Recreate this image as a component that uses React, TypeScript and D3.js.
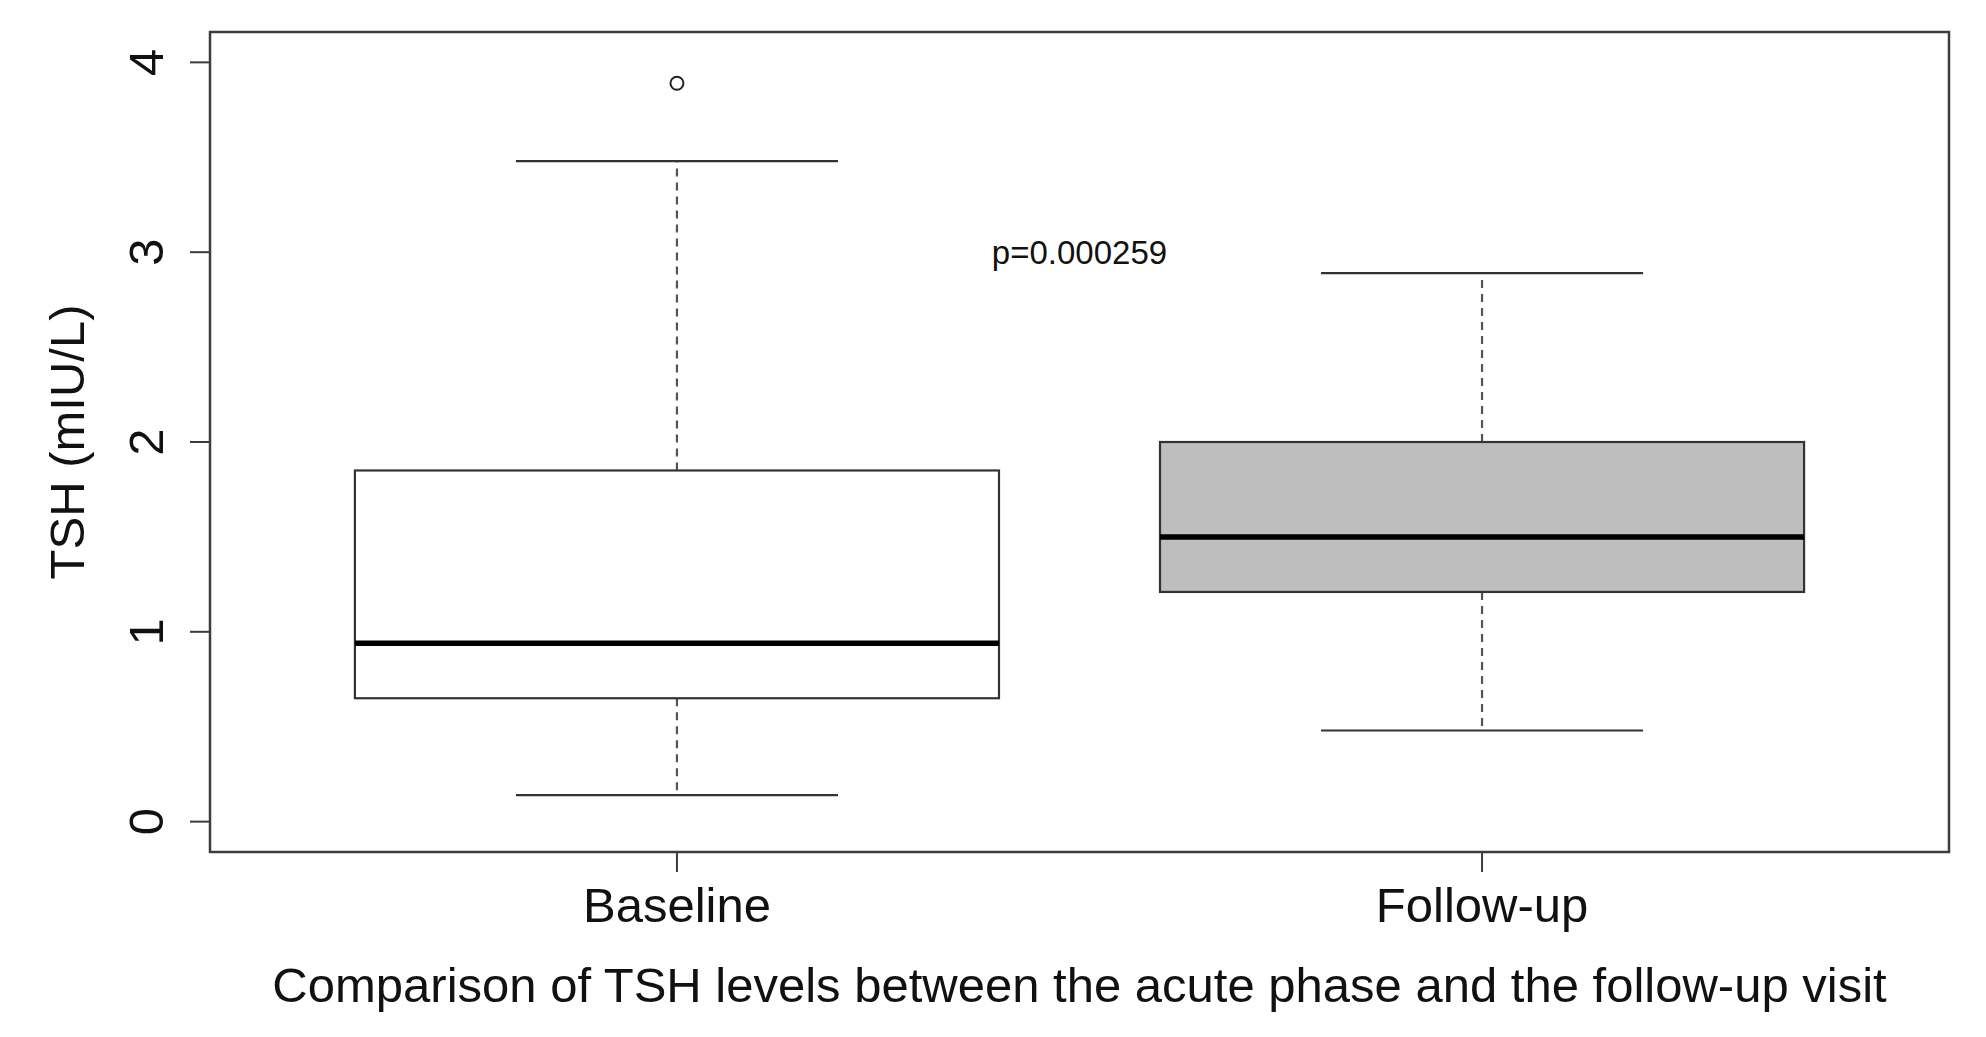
import { useEffect, useRef } from 'react';
import * as d3 from 'd3';

// Box summaries (TSH, mIU/L)
const groups = ['Baseline', 'Follow-up'];
const whiskerLow = [0.14, 0.48];
const q1 = [0.65, 1.21];
const medians = [0.94, 1.5];
const q3 = [1.85, 2.0];
const whiskerHigh = [3.48, 2.89];
const outliers: number[][] = [[3.89], []];
const boxFills = ['#ffffff', '#bebebe'];
const yTicks = [0, 1, 2, 3, 4];
const pLabel = 'p=0.000259';

export default function App() {
  const ref = useRef<SVGSVGElement>(null);

  useEffect(() => {
    if (!ref.current) return;
    const svg = d3.select(ref.current);
    svg.selectAll('*').remove();

    const width = 1986;
    const height = 1037;
    const left = 210, right = 1949, top = 32, bottom = 852;
    const font = '"Liberation Sans", Arial, Helvetica, sans-serif';
    const frameColor = '#3c3c3c';
    const bigFont = '49px';

    svg.attr('width', width).attr('height', height);

    // R style: box positions 1..n, xlim extended by 4%
    const x = d3.scaleLinear().domain([0.42, 2.58]).range([left, right]);
    const y = d3.scaleLinear().domain([-0.16, 4.16]).range([bottom, top]);
    const boxW = 0.8;

    const boxes = groups.map((g, i) => ({
      name: g,
      pos: i + 1,
      lo: whiskerLow[i],
      q1: q1[i],
      med: medians[i],
      q3: q3[i],
      hi: whiskerHigh[i],
      out: outliers[i],
      fill: boxFills[i],
    }));

    const g = svg.append('g');

    boxes.forEach(b => {
      const cx = x(b.pos);
      const half = x(b.pos + boxW / 2) - cx;
      const cap = half / 2;

      // dashed whiskers
      g.append('line')
        .attr('x1', cx).attr('x2', cx)
        .attr('y1', y(b.q3)).attr('y2', y(b.hi))
        .attr('stroke', '#555').attr('stroke-width', 2.2)
        .attr('stroke-dasharray', '8,6');
      g.append('line')
        .attr('x1', cx).attr('x2', cx)
        .attr('y1', y(b.q1)).attr('y2', y(b.lo))
        .attr('stroke', '#555').attr('stroke-width', 2.2)
        .attr('stroke-dasharray', '8,6');

      // staples
      [b.lo, b.hi].forEach(v => {
        g.append('line')
          .attr('x1', cx - cap).attr('x2', cx + cap)
          .attr('y1', y(v)).attr('y2', y(v))
          .attr('stroke', '#333').attr('stroke-width', 2.2);
      });

      // box
      g.append('rect')
        .attr('x', cx - half)
        .attr('y', y(b.q3))
        .attr('width', half * 2)
        .attr('height', y(b.q1) - y(b.q3))
        .attr('fill', b.fill)
        .attr('stroke', '#333')
        .attr('stroke-width', 2.2);

      // median
      g.append('line')
        .attr('x1', cx - half).attr('x2', cx + half)
        .attr('y1', y(b.med)).attr('y2', y(b.med))
        .attr('stroke', '#000').attr('stroke-width', 5.5);

      // outliers
      b.out.forEach(v => {
        g.append('circle')
          .attr('cx', cx).attr('cy', y(v))
          .attr('r', 6.5)
          .attr('fill', 'none')
          .attr('stroke', '#222')
          .attr('stroke-width', 2);
      });
    });

    // p-value annotation
    svg.append('text')
      .attr('x', x(1.5))
      .attr('y', y(3) + 12)
      .attr('text-anchor', 'middle')
      .style('font-family', font)
      .style('font-size', '33px')
      .style('fill', '#111')
      .text(pLabel);

    // plot frame
    svg.append('rect')
      .attr('x', left).attr('y', top)
      .attr('width', right - left).attr('height', bottom - top)
      .attr('fill', 'none')
      .attr('stroke', frameColor)
      .attr('stroke-width', 2.5);

    // y axis ticks + labels
    const yAxis = svg.append('g');
    yAxis.selectAll('line.tick')
      .data(yTicks)
      .join('line')
      .attr('class', 'tick')
      .attr('x1', left - 20).attr('x2', left)
      .attr('y1', d => y(d)).attr('y2', d => y(d))
      .attr('stroke', frameColor).attr('stroke-width', 2);
    yAxis.selectAll('text')
      .data(yTicks)
      .join('text')
      .attr('transform', d => `translate(${left - 47},${y(d)}) rotate(-90)`)
      .attr('text-anchor', 'middle')
      .style('font-family', font)
      .style('font-size', bigFont)
      .style('fill', '#111')
      .text(d => String(d));

    // x axis ticks + labels
    const xAxis = svg.append('g');
    xAxis.selectAll('line')
      .data(boxes)
      .join('line')
      .attr('x1', d => x(d.pos)).attr('x2', d => x(d.pos))
      .attr('y1', bottom).attr('y2', bottom + 20)
      .attr('stroke', frameColor).attr('stroke-width', 2);
    xAxis.selectAll('text')
      .data(boxes)
      .join('text')
      .attr('x', d => x(d.pos))
      .attr('y', 922)
      .attr('text-anchor', 'middle')
      .style('font-family', font)
      .style('font-size', bigFont)
      .style('fill', '#111')
      .text(d => d.name);

    // axis titles
    svg.append('text')
      .attr('transform', `translate(84,${(top + bottom) / 2}) rotate(-90)`)
      .attr('text-anchor', 'middle')
      .style('font-family', font)
      .style('font-size', bigFont)
      .style('fill', '#111')
      .text('TSH (mIU/L)');

    svg.append('text')
      .attr('x', (left + right) / 2)
      .attr('y', 1002)
      .attr('text-anchor', 'middle')
      .style('font-family', font)
      .style('font-size', bigFont)
      .style('fill', '#111')
      .text('Comparison of TSH levels between the acute phase and the follow-up visit');
  }, []);

  return (
    <div style={{ position: 'absolute', left: 0, top: 0, background: '#fff' }}>
      <svg ref={ref} style={{ display: 'block' }}></svg>
    </div>
  );
}
